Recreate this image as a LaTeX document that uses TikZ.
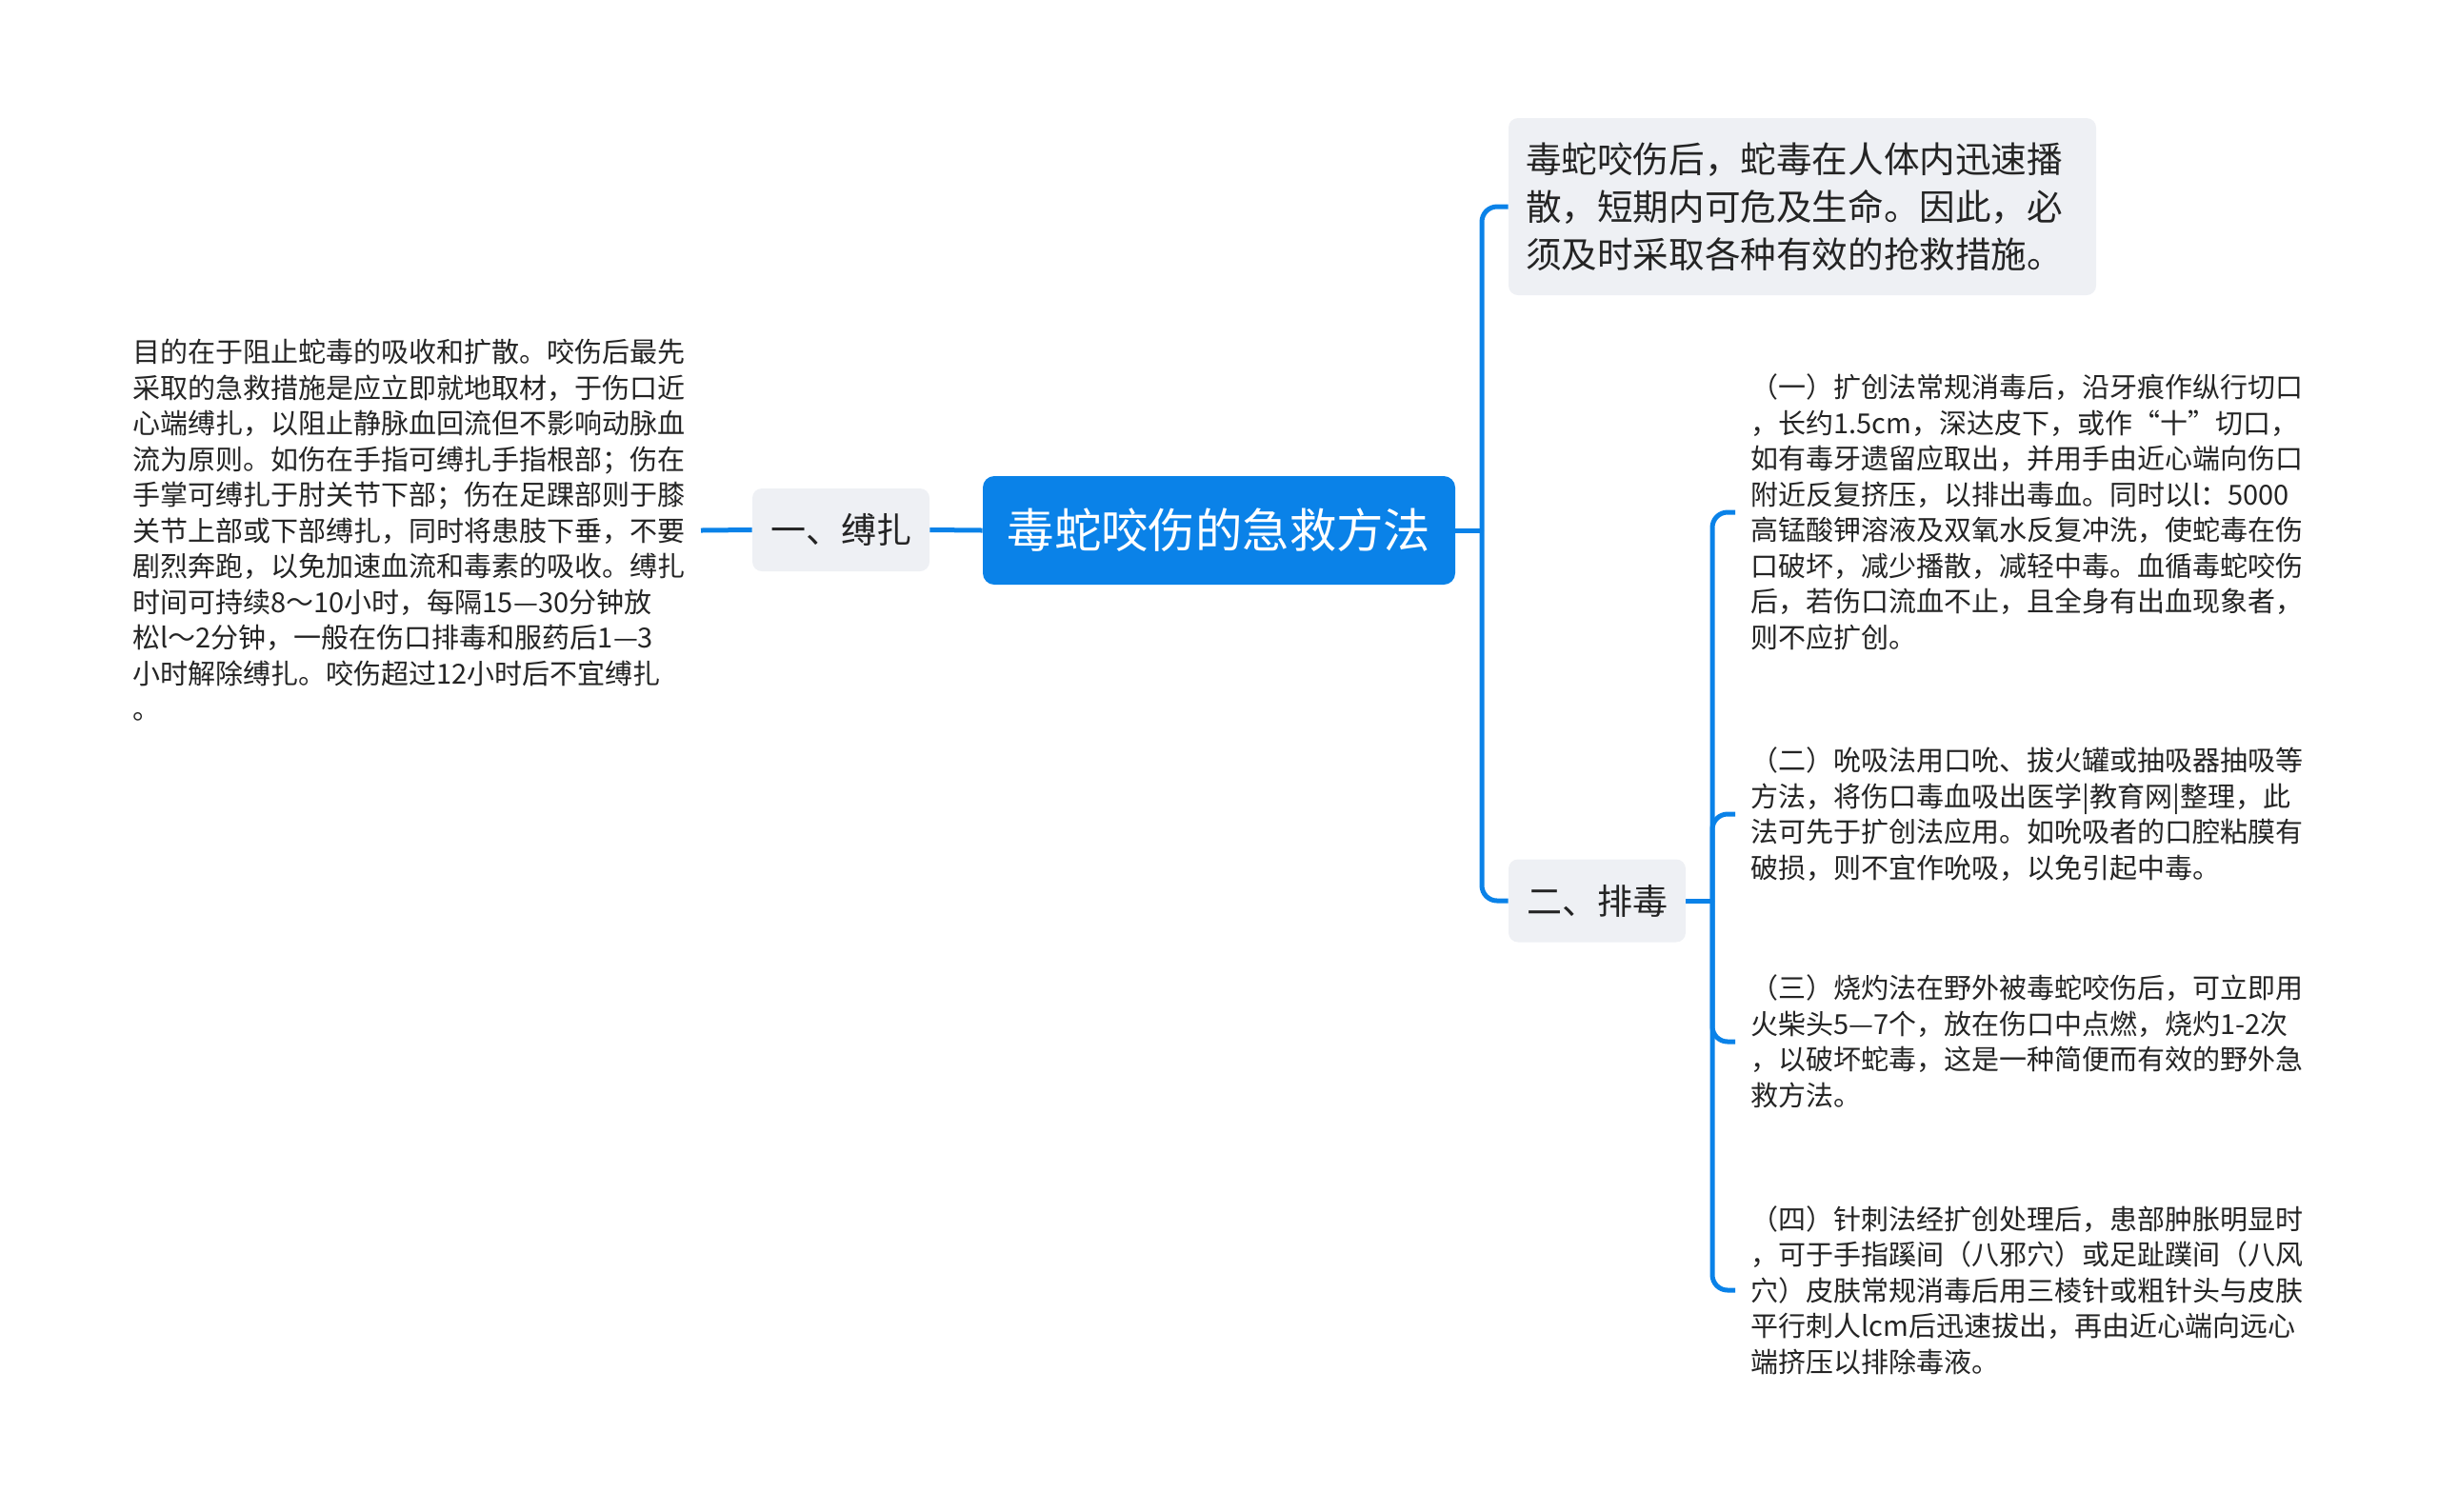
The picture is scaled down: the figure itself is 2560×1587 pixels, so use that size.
\documentclass[tikz,border=0pt]{standalone}
\usepackage{fontspec}
\setmainfont{Noto Sans CJK SC}
\definecolor{mapblue}{RGB}{10,130,232}
\definecolor{subgray}{RGB}{238,240,244}
\definecolor{inkgray}{RGB}{36,36,36}

\begin{document}
\begin{tikzpicture}[x=0.5pt, y=-0.5pt,
        rootnode/.style={fill=mapblue, text=white, rounded corners=6pt,
            minimum width=248pt, minimum height=57pt, inner sep=0pt,
            font=\fontsize{24.7pt}{30pt}\selectfont},
        subnode/.style={fill=subgray, text=inkgray, rounded corners=5pt,
            minimum width=93pt, minimum height=43.5pt, inner sep=0pt,
            font=\fontsize{18.5pt}{24pt}\selectfont},
        introbox/.style={fill=subgray, text=inkgray, rounded corners=5pt,
            text width=290.5pt, minimum height=93pt, inner xsep=9pt, align=left,
            font=\fontsize{18.8pt}{25pt}\selectfont},
        notetext/.style={text=inkgray, inner xsep=8pt, align=left,
            font=\fontsize{14.5pt}{18.75pt}\selectfont},
        link/.style={draw=mapblue, line width=2.5pt, rounded corners=8pt}]
    \useasboundingbox (0,0) rectangle (2560,1587);
    % 中心主题
    \node[rootnode] (root) at (1280,557) {毒蛇咬伤的急救方法};
    % 左侧分支
    \node[subnode] (bind) at (883,556.5) {一、缚扎};
    \node[notetext, anchor=east] (bindtxt) at (736,557) {目的在于阻止蛇毒的吸收和扩散。咬伤后最先\\
        采取的急救措施是应立即就地取材，于伤口近\\
        心端缚扎，以阻止静脉血回流但不影响动脉血\\
        流为原则。如伤在手指可缚扎手指根部；伤在\\
        手掌可缚扎于肘关节下部；伤在足踝部则于膝\\
        关节上部或下部缚扎，同时将患肢下垂，不要\\
        剧烈奔跑，以免加速血流和毒素的吸收。缚扎\\
        时间可持续8～10小时，每隔15—30分钟放\\
        松l～2分钟，一般在伤口排毒和服药后1—3\\
        小时解除缚扎。咬伤超过12小时后不宜缚扎\\
        。};
    % 右侧分支
    \node[introbox] (intro) at (1892.5,217) {毒蛇咬伤后，蛇毒在人体内迅速播\\
        散，短期内可危及生命。因此，必\\
        须及时采取各种有效的抢救措施。};
    \node[subnode] (drain) at (1677,946) {二、排毒};
    \node[notetext, anchor=west] (way1) at (1822,538) {（一）扩创法常规消毒后，沿牙痕作纵行切口\\
        ，长约1.5cm，深达皮下，或作“十”切口，\\
        如有毒牙遗留应取出，并用手由近心端向伤口\\
        附近反复挤压，以排出毒血。同时以l：5000\\
        高锰酸钾溶液及双氧水反复冲洗，使蛇毒在伤\\
        口破坏，减少播散，减轻中毒。血循毒蛇咬伤\\
        后，若伤口流血不止，且全身有出血现象者，\\
        则不应扩创。};
    \node[notetext, anchor=west] (way2) at (1822,855) {（二）吮吸法用口吮、拔火罐或抽吸器抽吸等\\
        方法，将伤口毒血吸出医学|教育网|整理，此\\
        法可先于扩创法应用。如吮吸者的口腔粘膜有\\
        破损，则不宜作吮吸，以免引起中毒。};
    \node[notetext, anchor=west] (way3) at (1822,1094) {（三）烧灼法在野外被毒蛇咬伤后，可立即用\\
        火柴头5—7个，放在伤口中点燃，烧灼1-2次\\
        ，以破坏蛇毒，这是一种简便而有效的野外急\\
        救方法。};
    \node[notetext, anchor=west] (way4) at (1822,1355) {（四）针刺法经扩创处理后，患部肿胀明显时\\
        ，可于手指蹊间（八邪穴）或足趾蹼间（八风\\
        穴）皮肤常规消毒后用三棱针或粗针头与皮肤\\
        平行刺人lcm后迅速拔出，再由近心端向远心\\
        端挤压以排除毒液。};
    % 连线
    \coordinate (j1) at (1556,557);
    \coordinate (j2) at (1798,946);
    \draw[link] (root.west) -- (bind.east);
    \draw[link] (bind.west) -- (bindtxt.east);
    \draw[link] (root.east) -- (j1);
    \draw[link] (intro.west) -| (j1);
    \draw[link] (drain.west) -| (j1);
    \draw[link] (drain.east) -- (j2);
    \foreach \w in {way1, way2, way3, way4}
        \draw[link] (\w.west) -| (j2);
\end{tikzpicture}
\end{document}
